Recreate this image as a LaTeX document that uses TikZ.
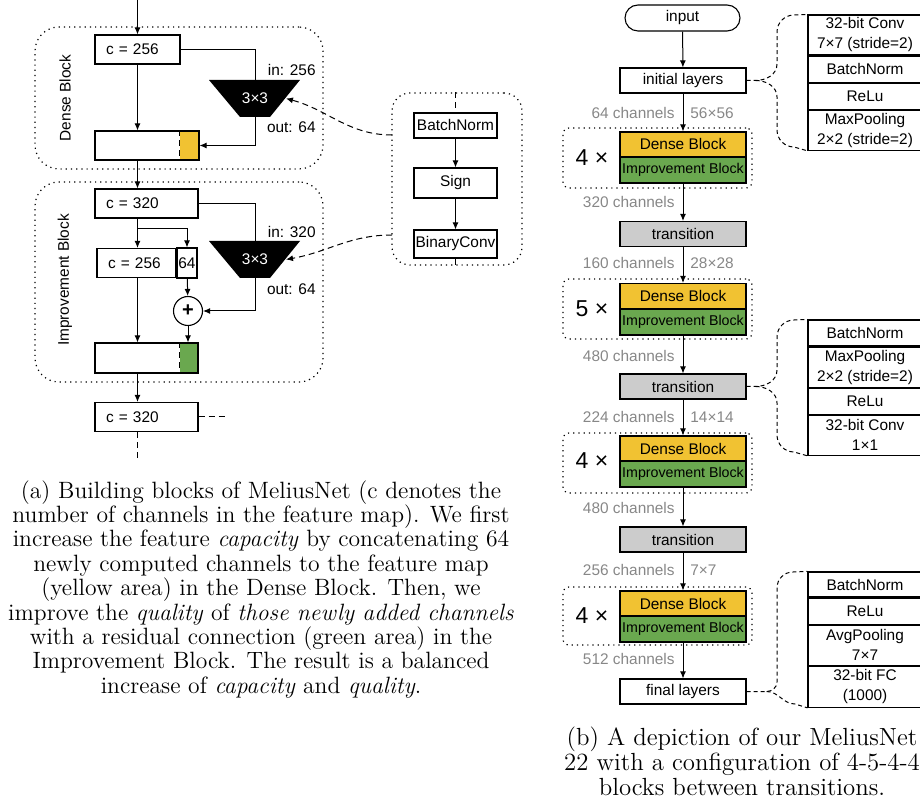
\documentclass[tikz,border=0pt]{standalone}
\usepackage{fontspec}
\usetikzlibrary{arrows.meta,positioning}
\newfontfamily\arialfont{Liberation Sans}
\definecolor{denseyellow}{RGB}{241,194,50}
\definecolor{impgreen}{RGB}{106,168,79}
\definecolor{transgray}{RGB}{204,204,204}
\definecolor{changray}{RGB}{135,135,135}
\tikzset{
    lbl/.style={font=\arialfont\fontsize{7.7}{9.2}\selectfont, inner sep=0pt},
    layerbox/.style={draw, line width=0.55pt, inner sep=0pt, font=\arialfont\fontsize{7.7}{9.2}\selectfont},
    featbox/.style={layerbox, minimum height=14.5pt, inner xsep=5.5pt, align=left},
    grpbox/.style={draw, dotted, line width=0.6pt, rounded corners=12pt},
    arr/.style={-{Latex[length=3.5pt,width=3pt]}, line width=0.5pt},
    link/.style={dash pattern=on 3pt off 2pt, line width=0.5pt},
    detail/.style={dash pattern=on 2pt off 1.5pt, line width=0.5pt},
    dense/.style={layerbox, fill=denseyellow, minimum width=63pt, minimum height=12.5pt},
    improve/.style={layerbox, fill=impgreen, minimum width=63pt, minimum height=13pt, font=\arialfont\fontsize{7.1}{8.5}\selectfont},
    trans/.style={layerbox, fill=transgray, minimum width=63pt, minimum height=12.5pt},
    chan/.style={lbl, text=changray},
    times/.style={inner sep=0pt, font=\arialfont\fontsize{11.5}{13}\selectfont},
    row/.style={layerbox, minimum width=57pt, align=center, font=\arialfont\fontsize{7.7}{10}\selectfont},
    capt/.style={inner sep=0pt, align=center, anchor=north}
}
\begin{document}
\begin{tikzpicture}[x=0.5pt,y=0.5pt]
    \useasboundingbox (0,0) rectangle (920,-806);
    \clip (0,0) rectangle (920,-806);
    % (a) dense block
    \node[grpbox, minimum width=144pt, minimum height=71pt] (dense) at (179,-98) {};
    \node[lbl, rotate=90] (densename) at (65,-98) {Dense Block};
    \coordinate (inA) at (137.5,0);
    \node[featbox, text width=31.5pt] (cA) at (137.5,-49.5) {c = 256};
    \draw[arr] (inA) -- (cA);
    \fill (209,-80) -- (300,-80) -- (270,-117) -- (240,-117) -- cycle;
    \node[lbl, text=white, minimum height=18.5pt] (convA) at (255,-98.5) {3×3};
    \node[lbl, anchor=east] (inlblA) at (316,-70) {in: 256};
    \node[lbl, anchor=east] (outlblA) at (316,-127) {out: 64};
    \draw[line width=0.5pt] (cA.east) -| (convA.north);
    \node[layerbox, fill=denseyellow, draw=none, minimum width=9.5pt, minimum height=14.5pt] (newA) at (189.5,-145.5) {};
    \node[layerbox, minimum width=52pt, minimum height=14.5pt] (catA) at (147,-145.5) {};
    \draw[link] (newA.north west) -- (newA.south west);
    \draw[arr] (convA.south) |- (newA.east);
    \draw[arr] (cA) -- (cA |- catA.north);
    % (a) improvement block
    \node[grpbox, minimum width=144pt, minimum height=100pt] (impr) at (179,-282) {};
    \node[lbl, rotate=90] (imprname) at (65,-280) {Improvement Block};
    \node[featbox, text width=40.5pt] (cB) at (146.5,-203.5) {c = 320};
    \draw[arr] (catA.south -| cA) -- (cB.north -| cA);
    \fill (209,-241) -- (300,-241) -- (270,-278) -- (240,-278) -- cycle;
    \node[lbl, text=white, minimum height=18.5pt] (convB) at (255,-259.5) {3×3};
    \node[lbl, anchor=east] (inlblB) at (316,-232) {in: 320};
    \node[lbl, anchor=east] (outlblB) at (316,-289) {out: 64};
    \draw[line width=0.5pt] (cB.east) -| (convB.north);
    \coordinate (split) at (137.5,-229);
    \node[featbox, text width=28.5pt] (oldB) at (136.5,-263) {c = 256};
    \node[layerbox, minimum width=10pt, minimum height=15pt] (partB) at (187,-263) {64};
    \node[layerbox, circle, minimum size=14.5pt, font=\arialfont\bfseries\fontsize{10}{12}\selectfont] (plusB) at (188,-311) {+};
    \draw[line width=0.5pt] (cB.south -| split) -- (split);
    \draw[arr] (split) -- (oldB.north -| split);
    \draw[arr] (split) -| (partB.north);
    \draw[arr] (partB) -- (plusB);
    \draw[arr] (convB.south) |- (plusB.east);
    \node[layerbox, fill=impgreen, draw=none, minimum width=9pt, minimum height=15pt] (newB) at (189,-358) {};
    \node[layerbox, minimum width=51.5pt, minimum height=15pt] (catB) at (146.5,-358) {};
    \draw[link] (newB.north west) -- (newB.south west);
    \draw[arr] (oldB.south -| split) -- (catB.north -| split);
    \draw[arr] (plusB) -- (plusB |- newB.north);
    \node[featbox, text width=40.5pt] (cC) at (146.5,-417) {c = 320};
    \draw[arr] (catB.south -| split) -- (cC.north -| split);
    \coordinate (nextA) at (228,-417);
    \coordinate (nextB) at (137.5,-460);
    \draw[link] (cC) -- (nextA);
    \draw[link] (cC.south -| split) -- (nextB);
    % binary layer
    \node[grpbox, rounded corners=9pt, minimum width=65pt, minimum height=86pt] (binlayer) at (457,-179) {};
    \node[layerbox, minimum width=41.5pt, minimum height=12.5pt] (bnA) at (455.5,-125.5) {BatchNorm};
    \node[layerbox, minimum width=41.5pt, minimum height=15pt] (signA) at (455.5,-183) {Sign};
    \node[layerbox, minimum width=41.5pt, minimum height=14pt] (bconvA) at (455.5,-244) {BinaryConv};
    \draw[link] (binlayer.north -| bnA) -- (bnA);
    \draw[link] (bconvA) -- (binlayer.south -| bconvA);
    \draw[arr] (bnA) -- (signA);
    \draw[arr] (signA) -- (bconvA);
    \coordinate (hookA) at (392,-135);
    \coordinate (hookB) at (392,-235);
    \coordinate (sideA) at (286,-98.5);
    \coordinate (sideB) at (286,-259.5);
    \draw[arr, link] (hookA) to[out=180,in=-15] (sideA);
    \draw[arr, link] (hookB) to[out=180,in=10] (sideB);
    % (b) network
    \node[layerbox, rounded corners=6.5pt, minimum width=57.5pt, minimum height=13pt] (input) at (682.5,-18) {input};
    \node[layerbox, minimum width=63pt, minimum height=12.5pt] (init) at (683,-80.5) {initial layers};
    \node[chan, anchor=east] (chA) at (675,-113) {64 channels};
    \node[chan, anchor=west] (resA) at (690,-113) {56×56};
    \node[grpbox, rounded corners=3pt, minimum width=94.5pt, minimum height=30pt] (rep1) at (657.5,-158) {};
    \node[dense] (dense1) at (683,-144.5) {Dense Block};
    \node[improve] (impr1) at (683,-170) {Improvement Block};
    \node[times] (times1) at (592,-157.5) {4 ×};
    \node[chan, anchor=east] (chB) at (675,-202) {320 channels};
    \node[trans] (trans1) at (683,-234) {transition};
    \node[chan, anchor=east] (chC) at (675,-263) {160 channels};
    \node[chan, anchor=west] (resB) at (690,-263) {28×28};
    \node[grpbox, rounded corners=3pt, minimum width=94.5pt, minimum height=30pt] (rep2) at (657.5,-309) {};
    \node[dense] (dense2) at (683,-296) {Dense Block};
    \node[improve] (impr2) at (683,-322) {Improvement Block};
    \node[times] (times2) at (592,-309) {5 ×};
    \node[chan, anchor=east] (chD) at (675,-356) {480 channels};
    \node[trans] (trans2) at (683,-386.5) {transition};
    \node[chan, anchor=east] (chE) at (675,-417) {224 channels};
    \node[chan, anchor=west] (resC) at (690,-417) {14×14};
    \node[grpbox, rounded corners=3pt, minimum width=94.5pt, minimum height=30pt] (rep3) at (657.5,-463) {};
    \node[dense] (dense3) at (683,-448.5) {Dense Block};
    \node[improve] (impr3) at (683,-474) {Improvement Block};
    \node[times] (times3) at (592,-461) {4 ×};
    \node[chan, anchor=east] (chF) at (675,-508) {480 channels};
    \node[trans] (trans3) at (683,-539.5) {transition};
    \node[chan, anchor=east] (chG) at (675,-570) {256 channels};
    \node[chan, anchor=west] (resD) at (690,-570) {7×7};
    \node[grpbox, rounded corners=3pt, minimum width=94.5pt, minimum height=29pt] (rep4) at (657.5,-616) {};
    \node[dense] (dense4) at (683,-603.5) {Dense Block};
    \node[improve] (impr4) at (683,-629) {Improvement Block};
    \node[times] (times4) at (592,-616) {4 ×};
    \node[chan, anchor=east] (chH) at (675,-659) {512 channels};
    \node[layerbox, minimum width=63pt, minimum height=12.5pt] (final) at (683,-691.5) {final layers};
    \draw[arr] (input) -- (init);
    \draw[arr] (init) -- (dense1);
    \draw[arr] (impr1) -- (trans1);
    \draw[arr] (trans1) -- (dense2);
    \draw[arr] (impr2) -- (trans2);
    \draw[arr] (trans2) -- (dense3);
    \draw[arr] (impr3) -- (trans3);
    \draw[arr] (trans3) -- (dense4);
    \draw[arr] (impr4) -- (final);
    % layer tables
    \node[row, minimum height=20pt] (convinit) at (865,-35) {32-bit Conv\\7×7 (stride=2)};
    \node[row, minimum height=13pt, below=0pt of convinit] (bninit) {BatchNorm};
    \node[row, minimum height=13pt, below=0pt of bninit] (reluinit) {ReLu};
    \node[row, minimum height=20pt, below=0pt of reluinit] (poolinit) {MaxPooling\\2×2 (stride=2)};
    \node[row, minimum height=13pt] (bntrans) at (865,-333) {BatchNorm};
    \node[row, minimum height=20pt, below=0pt of bntrans] (pooltrans) {MaxPooling\\2×2 (stride=2)};
    \node[row, minimum height=13pt, below=0pt of pooltrans] (relutrans) {ReLu};
    \node[row, minimum height=20pt, below=0pt of relutrans] (convtrans) {32-bit Conv\\1×1};
    \node[row, minimum height=12.5pt] (bnfinal) at (865,-584.5) {BatchNorm};
    \node[row, minimum height=13pt, below=0pt of bnfinal] (relufinal) {ReLu};
    \node[row, minimum height=20pt, below=0pt of relufinal] (poolfinal) {AvgPooling\\7×7};
    \node[row, minimum height=20.5pt, below=0pt of poolfinal] (fcfinal) {32-bit FC\\(1000)};
    % braces
    \draw[detail] (init.east) -- ++(9,0) to[out=0,in=-90] (777,-64) -- (777,-32) to[out=90,in=180] (794,-15) -- (convinit.north west);
    \draw[detail] (init.east) ++(9,0) to[out=0,in=90] (777,-97) -- (777,-130) to[out=-90,in=180] (794,-147) -- (poolinit.south west);
    \draw[detail] (trans2.east) -- ++(9,0) to[out=0,in=-90] (777,-370) -- (777,-337) to[out=90,in=180] (794,-320) -- (bntrans.north west);
    \draw[detail] (trans2.east) ++(9,0) to[out=0,in=90] (777,-403) -- (777,-435) to[out=-90,in=180] (794,-452) -- (convtrans.south west);
    \draw[detail] (final.east) -- ++(20,0) to[out=0,in=-90] (777,-682) -- (777,-588) to[out=90,in=180] (793,-572) -- (bnfinal.north west);
    \draw[detail] (final.east) ++(20,0) to[out=0,in=180] (795,-704) -- (fcfinal.south west);
    % captions
    \node[capt, font=\fontsize{11.8}{12.2}\selectfont] (capa) at (261,-480) {(a) Building blocks of MeliusNet (c denotes the\\number of channels in the feature map). We first\\increase the feature \emph{capacity} by concatenating 64\\newly computed channels to the feature map\\(yellow area) in the Dense Block. Then, we\\improve the \emph{quality} of \emph{those newly added channels}\\with a residual connection (green area) in the\\Improvement Block. The result is a balanced\\increase of \emph{capacity} and \emph{quality}.};
    \node[capt, font=\fontsize{12.4}{12.5}\selectfont] (capb) at (742,-726) {(b) A depiction of our MeliusNet\\22 with a configuration of 4-5-4-4\\blocks between transitions.};
\end{tikzpicture}
\end{document}
